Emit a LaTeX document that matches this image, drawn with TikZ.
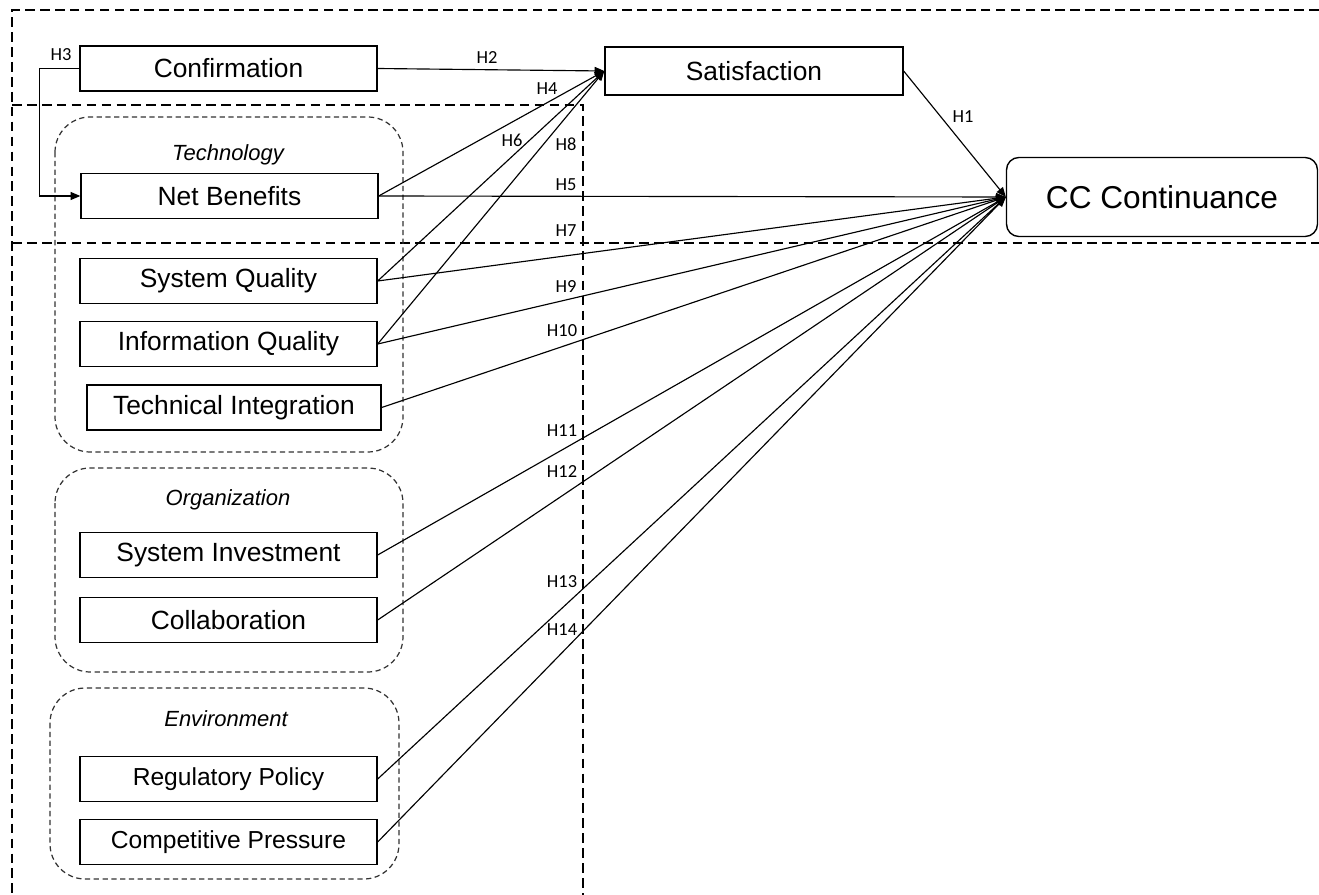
\documentclass[tikz,border=0pt]{standalone}
\usepackage{fontspec}
\setmainfont{Liberation Sans}
\newfontfamily\hypfont{Carlito}
\usepackage{tikz}
\usetikzlibrary{arrows.meta}
\tikzset{
	box/.style={draw, line width=0.8pt, minimum width=5.94cm, minimum height=0.9cm, inner sep=0pt, font=\fontsize{15}{18}\selectfont},
	envbox/.style={box, font=\fontsize{14}{17}\selectfont},
	grp/.style={draw=black!80, line width=0.7pt, dash pattern=on 3pt off 2pt, rounded corners=20pt},
	grplabel/.style={font=\fontsize{12.5}{15}\selectfont\itshape, inner sep=0pt},
	zone/.style={line width=0.7pt, dash pattern=on 5.5pt off 3pt},
	conn/.style={line width=0.65pt, -{Triangle[length=5.5pt, width=4.5pt]}},
	hyp/.style={font=\hypfont\fontsize{10.5}{12}\selectfont, inner sep=0pt},
}

\begin{document}
\begin{tikzpicture}[x=0.02cm, y=-0.02cm]
			%%%%% START %%%%%
			\useasboundingbox (0, 0) rectangle (1319, 895);
			
			\draw[zone] (1319, 10) -- (12, 10) -- (12, 895);
			\draw[zone] (12, 105) -- (583, 105) -- (583, 895);
			\draw[zone] (12, 243) -- (1319, 243);
			
			\draw[grp] (55, 117) rectangle (403, 452);
			\draw[grp] (55, 468) rectangle (403, 672);
			\draw[grp] (50, 688) rectangle (399, 879);
			\node[grplabel] (techlab) at (228, 155) {Technology};
			\node[grplabel] (orglab) at (228, 500) {Organization};
			\node[grplabel] (envlab) at (226, 719) {Environment};
			
			\node[box] (conf) at (228.5, 68.5) {Confirmation};
			\node[box, minimum width=5.96cm, minimum height=0.96cm] (sat) at (754, 71) {Satisfaction};
			\node[box, rounded corners=7pt, minimum width=6.22cm, minimum height=1.58cm, font=\fontsize{18}{21}\selectfont] (cc) at (1162, 197) {CC Continuance};
			
			\node[box] (nb) at (229.5, 196) {Net Benefits};
			\node[box] (sq) at (228.5, 281) {System Quality};
			\node[box] (iq) at (228.5, 344) {Information Quality};
			\node[box, minimum width=5.88cm] (ti) at (234, 407.5) {Technical Integration};
			\node[box] (si) at (228.5, 555) {System Investment};
			\node[box] (col) at (228.5, 620) {Collaboration};
			\node[envbox] (rp) at (228.5, 779) {Regulatory Policy};
			\node[envbox] (cp) at (228.5, 842) {Competitive Pressure};
			
			\draw[conn] (conf.east) -- (sat.west);
			\draw[conn] (conf.west) -- ++(-40, 0) |- (nb.west);
			\draw[conn] (nb.east) -- (sat.west);
			\draw[conn] (sq.east) -- (sat.west);
			\draw[conn] (iq.east) -- (sat.west);
			\draw[conn] (sat.east) -- (cc.west);
			\foreach \src in {nb, sq, iq, ti, si, col, rp, cp}
				\draw[conn] (\src.east) -- (cc.west);
			
			\node[hyp] (h1) at (963, 117) {H1};
			\node[hyp] (h2) at (487, 58) {H2};
			\node[hyp] (h3) at (61, 55) {H3};
			\node[hyp] (h4) at (547, 89) {H4};
			\node[hyp] (h5) at (566, 185) {H5};
			\node[hyp] (h6) at (512, 140) {H6};
			\node[hyp] (h7) at (566, 231) {H7};
			\node[hyp] (h8) at (566, 144) {H8};
			\node[hyp] (h9) at (566, 287) {H9};
			\node[hyp] (h10) at (562, 331) {H10};
			\node[hyp] (h11) at (562, 431) {H11};
			\node[hyp] (h12) at (562, 472) {H12};
			\node[hyp] (h13) at (562, 582) {H13};
			\node[hyp] (h14) at (562, 630) {H14};
			
			%%%%% END %%%%%
\end{tikzpicture}
\end{document}
